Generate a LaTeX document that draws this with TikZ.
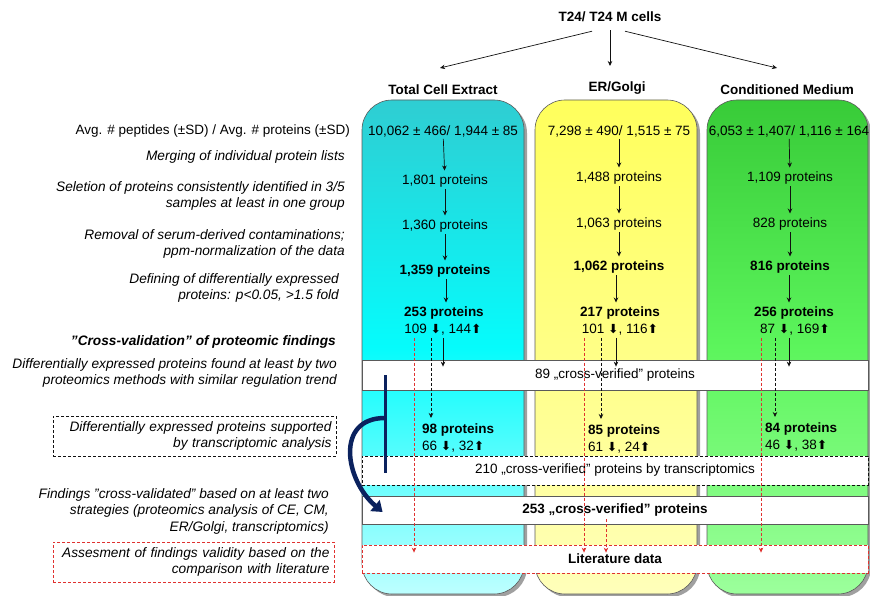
\documentclass[tikz,border=0pt]{standalone}
\usepackage{fontspec}
\setmainfont{Liberation Sans}
\newfontfamily\symfont{DejaVu Sans}
\usepackage{tikz}
\usetikzlibrary{positioning,arrows.meta,calc}
\usepackage{xcolor}
\definecolor{ceTop}{HTML}{2FCDD2}
\definecolor{ceMid}{HTML}{05FCFC}
\definecolor{ceBot}{HTML}{BDFFFF}
\definecolor{erTop}{HTML}{FFFF5C}
\definecolor{erMid}{HTML}{FFFF85}
\definecolor{erBot}{HTML}{FFFFBA}
\definecolor{cmTop}{HTML}{38CB38}
\definecolor{cmMid}{HTML}{5CF55C}
\definecolor{cmBot}{HTML}{9CFF9C}
\definecolor{pvInk}{HTML}{111111}
\definecolor{pvEdge}{HTML}{5A5A5A}
\definecolor{pvShadow}{HTML}{A0A0A0}
\definecolor{pvRed}{HTML}{E0312F}
\definecolor{pvNavy}{HTML}{0B225E}
\newcommand{\fsz}{\fontsize{13.5}{16.5}\selectfont}
\newcommand{\fszi}{\fontsize{13.7}{16.5}\selectfont}
\newcommand{\pvdn}{{\symfont\fontsize{12.5}{12}\selectfont ⬇}}
\newcommand{\pvup}{{\symfont\fontsize{12.5}{12}\selectfont ⬆}}
\tikzset{
  colshadow/.style = {rounded corners=30pt, fill=pvShadow},
  colbox/.style    = {rounded corners=30pt, draw=pvEdge, line width=0.6pt},
  head/.style      = {font=\fsz\bfseries, inner sep=1pt},
  stage/.style     = {font=\fsz, inner sep=2pt},
  keystage/.style  = {stage, font=\fsz\bfseries},
  subset/.style    = {font=\fsz, align=left, inner sep=2pt, anchor=north west},
  why/.style       = {font=\fszi\itshape, align=right, anchor=east, inner sep=0pt},
  whybox/.style    = {why, anchor=center, inner xsep=4pt, minimum height=40pt,
                      dash pattern=on 3pt off 2pt, line width=0.7pt},
  band/.style      = {draw=pvEdge, line width=0.8pt, fill=white, font=\fsz,
                      minimum width=506pt, minimum height=28pt},
  flow/.style      = {-{Stealth[length=5pt,width=4.5pt]}, line width=0.7pt,
                      draw=pvInk, shorten >=2pt},
  dflow/.style     = {flow, dash pattern=on 3pt off 2pt},
  rflow/.style     = {dflow, draw=pvRed},
  navybar/.style   = {draw=pvNavy, line width=3pt},
  navyarc/.style   = {-{Triangle[length=10pt,width=14pt]}, draw=pvNavy,
                      line width=4.5pt},
}
\begin{document}
\begin{tikzpicture}[x=1pt, y=-1pt]
  \useasboundingbox (0,0) rectangle (870,596);

  % the three sample columns
  \fill[colshadow] (365,103) rectangle (527,597);
  \fill[colshadow] (538,103) rectangle (700,597);
  \fill[colshadow] (710,103) rectangle (871,597);
  \path[colbox, top color=ceTop, bottom color=ceBot, middle color=ceMid]
    (362,100) rectangle (524,594);
  \path[colbox, top color=erTop, bottom color=erBot, middle color=erMid]
    (535,100) rectangle (697,594);
  \path[colbox, top color=cmTop, bottom color=cmBot, middle color=cmMid]
    (707,100) rectangle (868,594);

  \node[head] (cells) at (610,17) {T24/ T24 M cells};
  \node[head] (ceHead) at (443,90) {Total Cell Extract};
  \node[head] (erHead) at (617,88) {ER/Golgi};
  \node[head] (cmHead) at (787,90) {Conditioned Medium};
  \coordinate (ceIn) at (440,68);
  \coordinate (erIn) at (610,66);
  \coordinate (cmIn) at (777,68);
  \draw[flow, shorten >=0pt] ([xshift=-18pt,yshift=-8pt]cells.south) -- (ceIn);
  \draw[flow, shorten >=0pt] ([yshift=-7pt]cells.south) -- (erIn);
  \draw[flow, shorten >=0pt] ([xshift=15pt,yshift=-8pt]cells.south) -- (cmIn);

  % left-hand descriptions
  \node[why, font=\fsz] (avgLbl) at (350,131)
    {Avg. \# peptides (±SD) / Avg. \# proteins (±SD)};
  \node[why] (mergeLbl) at (345,157) {Merging of individual protein lists};
  \node[why] (selectLbl) at (345,196)
    {Seletion of proteins consistently identified in 3/5\\samples at least in one group};
  \node[why] (removeLbl) at (345,244)
    {Removal of serum-derived contaminations;\\ppm-normalization of the data};
  \node[why] (defineLbl) at (339,288)
    {Defining of differentially expressed\\proteins: p<0.05, >1.5 fold};
  \node[why, font=\fszi\bfseries\itshape] (crossLbl) at (336,342)
    {"Cross-validation" of proteomic findings};
  \node[why] (foundLbl) at (337,373)
    {Differentially expressed proteins found at least by two\\proteomics methods with similar regulation trend};
  \node[whybox, draw=pvInk, minimum width=283pt, text width=274pt] (transBox) at (194.5,436)
    {Differentially expressed proteins supported\\by transcriptomic analysis};
  \node[why] (findLbl) at (329,511)
    {Findings "cross-validated" based on at least two\\strategies (proteomics analysis of CE, CM,\\ER/Golgi, transcriptomics)};
  \node[whybox, draw=pvRed, minimum width=281pt, text width=272pt] (assessBox) at (193.5,562)
    {Assesment of findings validity based on the\\comparison with literature};

  % total cell extract
  \node[stage] (ce0) at (443,131) {10,062 ± 466/ 1,944 ± 85};
  \node[stage] (ce1) at (445,181) {1,801 proteins};
  \node[stage] (ce2) at (445,226) {1,360 proteins};
  \node[keystage] (ce3) at (445,271) {1,359 proteins};
  \node[keystage] (ce4) at (444,313) {253 proteins};
  \node[stage] (ceCnt) at (443,330) {109 \pvdn, 144\pvup};
  % er/golgi
  \node[stage] (er0) at (619,131) {7,298 ± 490/ 1,515 ± 75};
  \node[stage] (er1) at (619,178) {1,488 proteins};
  \node[stage] (er2) at (619,224) {1,063 proteins};
  \node[keystage] (er3) at (619,267) {1,062 proteins};
  \node[keystage] (er4) at (620,313) {217 proteins};
  \node[stage] (erCnt) at (620,330) {101 \pvdn, 116\pvup};
  % conditioned medium
  \node[stage] (cm0) at (789,131) {6,053 ± 1,407/ 1,116 ± 164};
  \node[stage] (cm1) at (790,178) {1,109 proteins};
  \node[stage] (cm2) at (790,224) {828 proteins};
  \node[keystage] (cm3) at (790,267) {816 proteins};
  \node[keystage] (cm4) at (794,313) {256 proteins};
  \node[stage] (cmCnt) at (795,330) {87 \pvdn, 169\pvup};

  \draw[flow] (ce0) -- (ce1);
  \draw[flow] (ce1) -- (ce2);
  \draw[flow] (ce2) -- (ce3);
  \draw[flow] ([xshift=1pt]ce3.south) -- ([xshift=1pt]ce3.south |- ce4.north);
  \draw[flow] (er0) -- (er1);
  \draw[flow] (er1) -- (er2);
  \draw[flow] (er2) -- (er3);
  \draw[flow] ([xshift=-3pt]er3.south) -- ([xshift=-3pt]er3.south |- er4.north);
  \draw[flow] (cm0) -- (cm1);
  \draw[flow] (cm1) -- (cm2);
  \draw[flow] (cm2) -- (cm3);
  \draw[flow] ([xshift=-1pt]cm3.south) -- ([xshift=-1pt]cm3.south |- cm4.north);

  % cross-verification bands
  \node[band, minimum height=30pt] (verified) at (615,375) {89 „cross-verified” proteins};
  \node[band, draw=pvInk, dash pattern=on 3pt off 2pt, minimum height=29pt] (transcr)
    at (615,470.5) {210 „cross-verified” proteins by transcriptomics};
  \node[band, font=\fsz\bfseries] (total) at (615,510) {253 „cross-verified” proteins};
  \node[band, draw=pvRed, dash pattern=on 3pt off 2pt, font=\fsz\bfseries] (lit)
    at (615,559) {Literature data};

  \node[subset] (ceSup) at (420,422) {\textbf{98 proteins}\\66 \pvdn, 32\pvup};
  \node[subset] (erSup) at (586,423) {\textbf{85 proteins}\\61 \pvdn, 24\pvup};
  \node[subset] (cmSup) at (763,421) {\textbf{84 proteins}\\46 \pvdn, 38\pvup};

  \draw[flow, shorten >=-7pt] (ceCnt.south) -- (ceCnt.south |- verified.north);
  \draw[flow, shorten >=-7pt] ([xshift=-4pt]erCnt.south) -- ([xshift=-4pt]erCnt.south |- verified.north);
  \draw[flow, shorten >=-7pt] ([xshift=-6pt]cmCnt.south) -- ([xshift=-6pt]cmCnt.south |- verified.north);

  \draw[dflow, shorten >=4pt] ([xshift=-12pt]ceCnt.south) -- ([xshift=-12pt]ceCnt.south |- ceSup.north);
  \draw[dflow, shorten >=4pt] ([xshift=-19pt]erCnt.south) -- ([xshift=-19pt]erCnt.south |- erSup.north);
  \draw[dflow, shorten >=4pt] ([xshift=-20pt]cmCnt.south) -- ([xshift=-20pt]cmCnt.south |- cmSup.north);

  \draw[rflow, shorten >=-8pt] ([xshift=-29pt]ceCnt.south) -- ([xshift=-29pt]ceCnt.south |- lit.north);
  \draw[rflow, shorten >=-8pt] ([xshift=-36pt]erCnt.south) -- ([xshift=-36pt]erCnt.south |- lit.north);
  \draw[rflow, shorten >=-8pt] ([xshift=-34pt]cmCnt.south) -- ([xshift=-34pt]cmCnt.south |- lit.north);
  \draw[rflow, shorten >=-8pt] ([xshift=-9pt,yshift=5pt]total.south) -- ([xshift=-9pt]lit.north);

  % merging of both strategies
  \coordinate (barTop) at (385,375);
  \coordinate (barBot) at (385,473);
  \coordinate (arcFrom) at (385,418);
  \draw[navybar] (barTop) -- (barBot);
  \draw[navyarc] (arcFrom) .. controls (335,418) and (345,480) .. ([xshift=21pt,yshift=-2pt]total.west);
\end{tikzpicture}
\end{document}
